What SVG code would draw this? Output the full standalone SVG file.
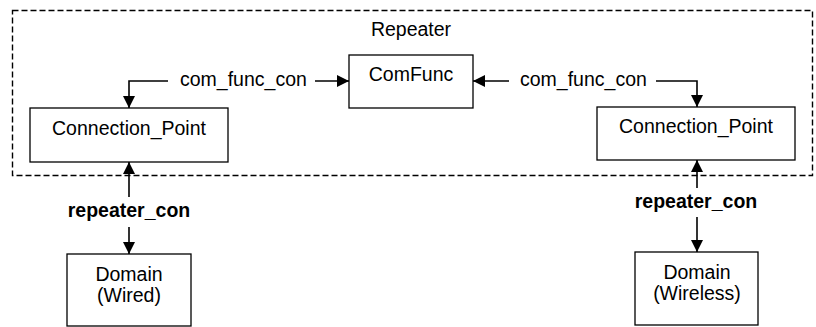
<svg xmlns="http://www.w3.org/2000/svg" width="816" height="327" viewBox="0 0 816 327">
  <style>
    .box { fill: #ffffff; stroke: #000000; stroke-width: 1.3; }
    .frame { fill: none; stroke: #000000; stroke-width: 1.4; stroke-dasharray: 6 3; }
    .link { fill: none; stroke: #000000; stroke-width: 1.6; marker-end: url(#arrow); }
    text { font-family: "Liberation Sans", Arial, sans-serif; font-size: 19.5px; fill: #000000; }
    .mid { text-anchor: middle; }
    .bold { font-weight: bold; }
  </style>
  <defs>
    <marker id="arrow" markerUnits="userSpaceOnUse" markerWidth="12" markerHeight="12" viewBox="0 0 12 12" refX="12" refY="6" orient="auto">
      <path d="M0,0 L12,6 L0,12 Z" fill="#000000"/>
    </marker>
  </defs>

  <!-- Repeater container -->
  <g id="repeater">
    <rect class="frame" x="12.5" y="10.5" width="800" height="165"/>
    <text class="mid" x="411" y="36">Repeater</text>
  </g>

  <g id="comfunc">
    <rect class="box" x="349" y="55" width="124" height="53"/>
    <text class="mid" x="411" y="81">ComFunc</text>
  </g>

  <g id="cp-left">
    <rect class="box" x="30" y="108" width="198" height="54"/>
    <text class="mid" x="129" y="135">Connection_Point</text>
  </g>

  <g id="cp-right">
    <rect class="box" x="597" y="107" width="198" height="53"/>
    <text class="mid" x="696" y="133">Connection_Point</text>
  </g>

  <g id="domain-wired">
    <rect class="box" x="67" y="254" width="124" height="72"/>
    <text class="mid" x="129" y="281">Domain</text>
    <text class="mid" x="129" y="302">(Wired)</text>
  </g>

  <g id="domain-wireless">
    <rect class="box" x="635" y="252" width="123" height="73"/>
    <text class="mid" x="697" y="279">Domain</text>
    <text class="mid" x="697" y="300">(Wireless)</text>
  </g>

  <!-- Connectors and their labels -->
  <g id="connectors">
    <path class="link" d="M168,81 H129 V108"/>
    <path class="link" d="M315,81 H349"/>
    <text x="180" y="86">com_func_con</text>

    <path class="link" d="M509,81 H473"/>
    <path class="link" d="M656,81 H697 V107"/>
    <text x="520" y="86">com_func_con</text>

    <path class="link" d="M129,197 V162"/>
    <path class="link" d="M129,227 V254"/>
    <text class="mid bold" x="129" y="217">repeater_con</text>

    <path class="link" d="M697,188 V160"/>
    <path class="link" d="M697,217 V252"/>
    <text class="mid bold" x="696" y="208">repeater_con</text>
  </g>
</svg>
